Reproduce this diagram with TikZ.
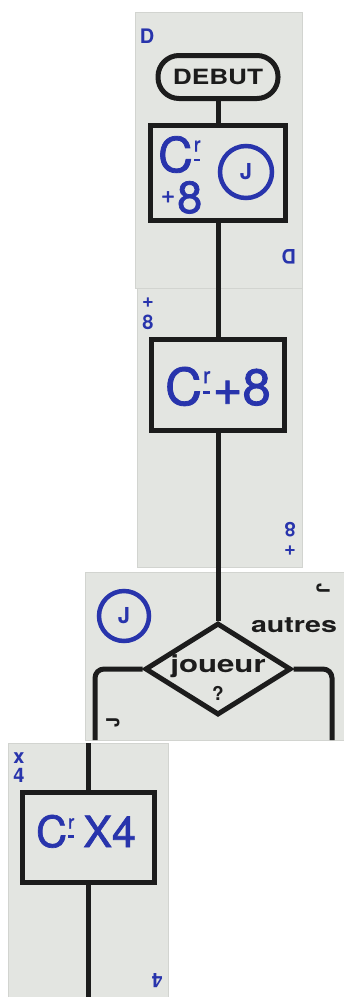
\documentclass[tikz,border=0pt]{standalone}
\usepackage{fontspec}
\setmainfont{TeX Gyre Heros}
\newfontfamily\inkfont[FakeBold=1.6]{TeX Gyre Heros}
\usetikzlibrary{shapes.geometric}

\definecolor{cardgray}{RGB}{227,229,225}
\definecolor{cardedge}{RGB}{210,212,208}
\definecolor{ink}{RGB}{28,28,28}
\definecolor{pen}{RGB}{40,52,172}

% "C" with a small raised r over a short bar (abbreviation mark)
\newcommand\crabbr[1]{C\kern0.02em\raisebox{0.43em}{\fontsize{#1}{#1}\selectfont\rlap{r}}\raisebox{0.22em}{\rule{0.13em}{0.05em}}\kern0.06em}

\begin{document}
\begin{tikzpicture}[x=1pt,y=-1pt,
  card/.style={fill=cardgray, draw=cardedge, line width=0.8pt},
  flow/.style={draw=ink, line width=5pt},
  boxnode/.style={draw=ink, line width=5pt, fill=cardgray, inner sep=0pt},
  bluetext/.style={text=pen, inner sep=0pt},
  corner/.style={text=pen, inner sep=0pt, font=\fontsize{20}{20}\selectfont\bfseries},
  blackidx/.style={text=ink, inner sep=0pt, font=\fontsize{18}{18}\selectfont\bfseries},
  label/.style={text=ink, inner sep=0pt},
  ]
\useasboundingbox (0,0) rectangle (344,997);
\fill[white] (0,0) rectangle (344,997);

% the four cards
\path[card] (135,12) rectangle (302,288);
\path[card] (137,288) rectangle (302,567);
\path[card] (85,572) rectangle (362,740);
\path[card] (8,743) rectangle (168,1020);

% card corner indices
\node[corner] (idxD1) at (147,36) {D};
\node[corner, rotate=180] (idxD2) at (289,257) {D};
\node[corner] (idxP1) at (148,303) {+};
\node[corner] (idxE1) at (148,322) {8};
\node[corner, rotate=180] (idxE2) at (290,530) {8};
\node[corner, rotate=180] (idxP2) at (290,550) {+};
\node[blackidx, rotate=-90] (idxJ1) at (323,588) {J};
\node[blackidx, rotate=90] (idxJ2) at (113,722) {J};
\node[corner] (idxX1) at (19,758) {x};
\node[corner] (idxF1) at (19,775) {4};
\node[corner, rotate=180] (idxF2) at (157,981) {4};

% start terminal
\node[boxnode, rounded corners=21pt, minimum width=120pt, minimum height=43pt,
      font=\fontsize{21}{21}\selectfont\bfseries, text=ink] (debut) at (218,77)
      {\scalebox{1.25}[1]{DEBUT}};

% first action box
\node[boxnode, minimum width=135pt, minimum height=95pt] (cr8j) at (218,173) {};
\node[bluetext, anchor=base west, font=\inkfont\fontsize{48}{48}\selectfont] (c1) at (158,172) {\crabbr{20}};
\node[bluetext, font=\inkfont\fontsize{24}{24}\selectfont] (p1) at (168,197) {+};
\node[bluetext, anchor=base west, font=\inkfont\fontsize{45}{45}\selectfont] (e1) at (177,213) {8};
\node[draw=pen, line width=4.5pt, circle, minimum size=52pt, inner sep=0pt,
      text=pen, font=\fontsize{22}{22}\selectfont\bfseries] (j1) at (246,172) {J};

% second action box
\node[boxnode, minimum width=133pt, minimum height=91pt] (cr8) at (218,385) {};
\node[bluetext, anchor=base, font=\inkfont\fontsize{51}{51}\selectfont] (t2) at (218,405) {\crabbr{22}+8};

% decision
\node[diamond, draw=ink, line width=5pt, fill=cardgray, minimum width=146pt,
      minimum height=92pt, inner sep=0pt] (joueur) at (218,669) {};
\node[label, anchor=base, font=\fontsize{24}{24}\selectfont\bfseries] (jq) at (218,672)
      {\scalebox{1.3}[1]{joueur}};
\node[label, anchor=base, font=\fontsize{19}{19}\selectfont\bfseries] (qm) at (218,700) {?};
\node[label, anchor=base, font=\fontsize{22}{22}\selectfont\bfseries] (autres) at (294,632)
      {\scalebox{1.3}[1]{autres}};
\node[draw=pen, line width=4.5pt, circle, minimum size=50pt, inner sep=0pt,
      text=pen, font=\fontsize{22}{22}\selectfont\bfseries] (j2) at (124,616) {J};

% third action box
\node[boxnode, minimum width=132pt, minimum height=90pt] (crx4) at (88,837.5) {};
\node[bluetext, anchor=base, font=\inkfont\fontsize{43}{43}\selectfont] (t4) at (86,847) {\crabbr{19}\,X4};

% connector end points at card edges
\coordinate (jleft) at (95,740);
\coordinate (jright) at (332,740);
\coordinate (x4top) at (88,743);
\coordinate (x4bot) at (88,997);

% connectors
\draw[flow] (debut.south) -- (cr8j.north);
\draw[flow] (cr8j.south) -- (cr8.north);
\draw[flow] (cr8.south) -- (joueur.north);
\draw[flow, rounded corners=9pt] (joueur.west) -| (jleft);
\draw[flow, rounded corners=9pt] (joueur.east) -| (jright);
\draw[flow] (x4top) -- (crx4.north);
\draw[flow] (crx4.south) -- (x4bot);
\end{tikzpicture}
\end{document}
